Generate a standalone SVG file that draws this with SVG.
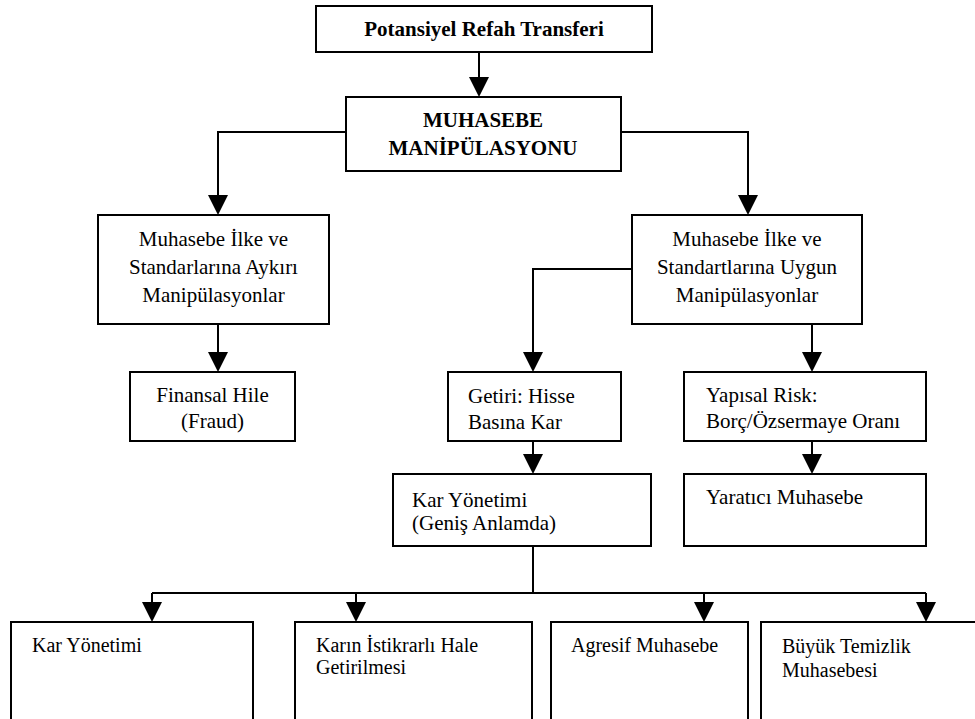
<svg xmlns="http://www.w3.org/2000/svg" width="975" height="719" viewBox="0 0 975 719">
<style>
.box{fill:#fff;stroke:#000;stroke-width:2}
.t{font-family:"Liberation Serif","Times New Roman",serif;font-size:21px;fill:#000}
.b{font-weight:bold}
.s{font-size:20px}
.m{text-anchor:middle}
.c{fill:none;stroke:#000;stroke-width:2}
</style>
<defs>
<marker id="ah" markerUnits="userSpaceOnUse" markerWidth="20" markerHeight="20" refX="18" refY="10" orient="auto">
<path d="M0,0 L20,10 L0,20 z" fill="#000"/>
</marker>
</defs>
<rect width="975" height="719" fill="#fff"/>
<g id="connectors">
<path class="c" d="M479,52 V95" marker-end="url(#ah)"/>
<path class="c" d="M346,132 H218 V213" marker-end="url(#ah)"/>
<path class="c" d="M621,132 H748 V213" marker-end="url(#ah)"/>
<path class="c" d="M218,324 V370" marker-end="url(#ah)"/>
<path class="c" d="M632,269 H533 V370" marker-end="url(#ah)"/>
<path class="c" d="M812,324 V370" marker-end="url(#ah)"/>
<path class="c" d="M533,441 V472" marker-end="url(#ah)"/>
<path class="c" d="M812,441 V472" marker-end="url(#ah)"/>
<path class="c" d="M533,546 V593 M152,593 H926"/>
<path class="c" d="M152,593 V620" marker-end="url(#ah)"/>
<path class="c" d="M356,593 V620" marker-end="url(#ah)"/>
<path class="c" d="M704,593 V620" marker-end="url(#ah)"/>
<path class="c" d="M926,593 V620" marker-end="url(#ah)"/>
</g>
<g id="n-top">
<rect class="box" x="316" y="6" width="336" height="46"/>
<text class="t b m" x="484" y="36">Potansiyel Refah Transferi</text>
</g>
<g id="n-muhasebe">
<rect class="box" x="346" y="97" width="275" height="74"/>
<text class="t b m" x="483" y="127">MUHASEBE</text>
<text class="t b m" x="483" y="155">MANİPÜLASYONU</text>
</g>
<g id="n-aykiri">
<rect class="box" x="98" y="215" width="231" height="109"/>
<text class="t m" x="213.5" y="246">Muhasebe İlke ve</text>
<text class="t m" x="213.5" y="274">Standarlarına Aykırı</text>
<text class="t m" x="213.5" y="302">Manipülasyonlar</text>
</g>
<g id="n-uygun">
<rect class="box" x="632" y="215" width="230" height="109"/>
<text class="t m" x="747" y="246">Muhasebe İlke ve</text>
<text class="t m" x="747" y="274">Standartlarına Uygun</text>
<text class="t m" x="747" y="302">Manipülasyonlar</text>
</g>
<g id="n-fraud">
<rect class="box" x="130" y="372" width="165" height="69"/>
<text class="t m" x="212.5" y="402">Finansal Hile</text>
<text class="t m" x="212.5" y="428">(Fraud)</text>
</g>
<g id="n-getiri">
<rect class="box" x="448" y="372" width="173" height="69"/>
<text class="t" x="468" y="403">Getiri: Hisse</text>
<text class="t" x="468" y="429">Basına Kar</text>
</g>
<g id="n-yapisal">
<rect class="box" x="684" y="372" width="242" height="69"/>
<text class="t" x="706" y="402">Yapısal Risk:</text>
<text class="t" x="706" y="428">Borç/Özsermaye Oranı</text>
</g>
<g id="n-kargenis">
<rect class="box" x="393" y="474" width="258" height="72"/>
<text class="t" x="412" y="507">Kar Yönetimi</text>
<text class="t" x="412" y="530">(Geniş Anlamda)</text>
</g>
<g id="n-yaratici">
<rect class="box" x="684" y="474" width="242" height="72"/>
<text class="t" x="706" y="504">Yaratıcı Muhasebe</text>
</g>
<g id="n-karyonetimi">
<rect class="box" x="11" y="622" width="242" height="110"/>
<text class="t s" x="32" y="652">Kar Yönetimi</text>
</g>
<g id="n-istikrar">
<rect class="box" x="295" y="622" width="237" height="110"/>
<text class="t s" x="316" y="652">Karın İstikrarlı Hale</text>
<text class="t s" x="316" y="674">Getirilmesi</text>
</g>
<g id="n-agresif">
<rect class="box" x="551" y="622" width="197" height="110"/>
<text class="t s" x="571" y="652">Agresif Muhasebe</text>
</g>
<g id="n-temizlik">
<rect class="box" x="761" y="622" width="230" height="110"/>
<text class="t s" x="782" y="653">Büyük Temizlik</text>
<text class="t s" x="782" y="677">Muhasebesi</text>
</g>
</svg>
